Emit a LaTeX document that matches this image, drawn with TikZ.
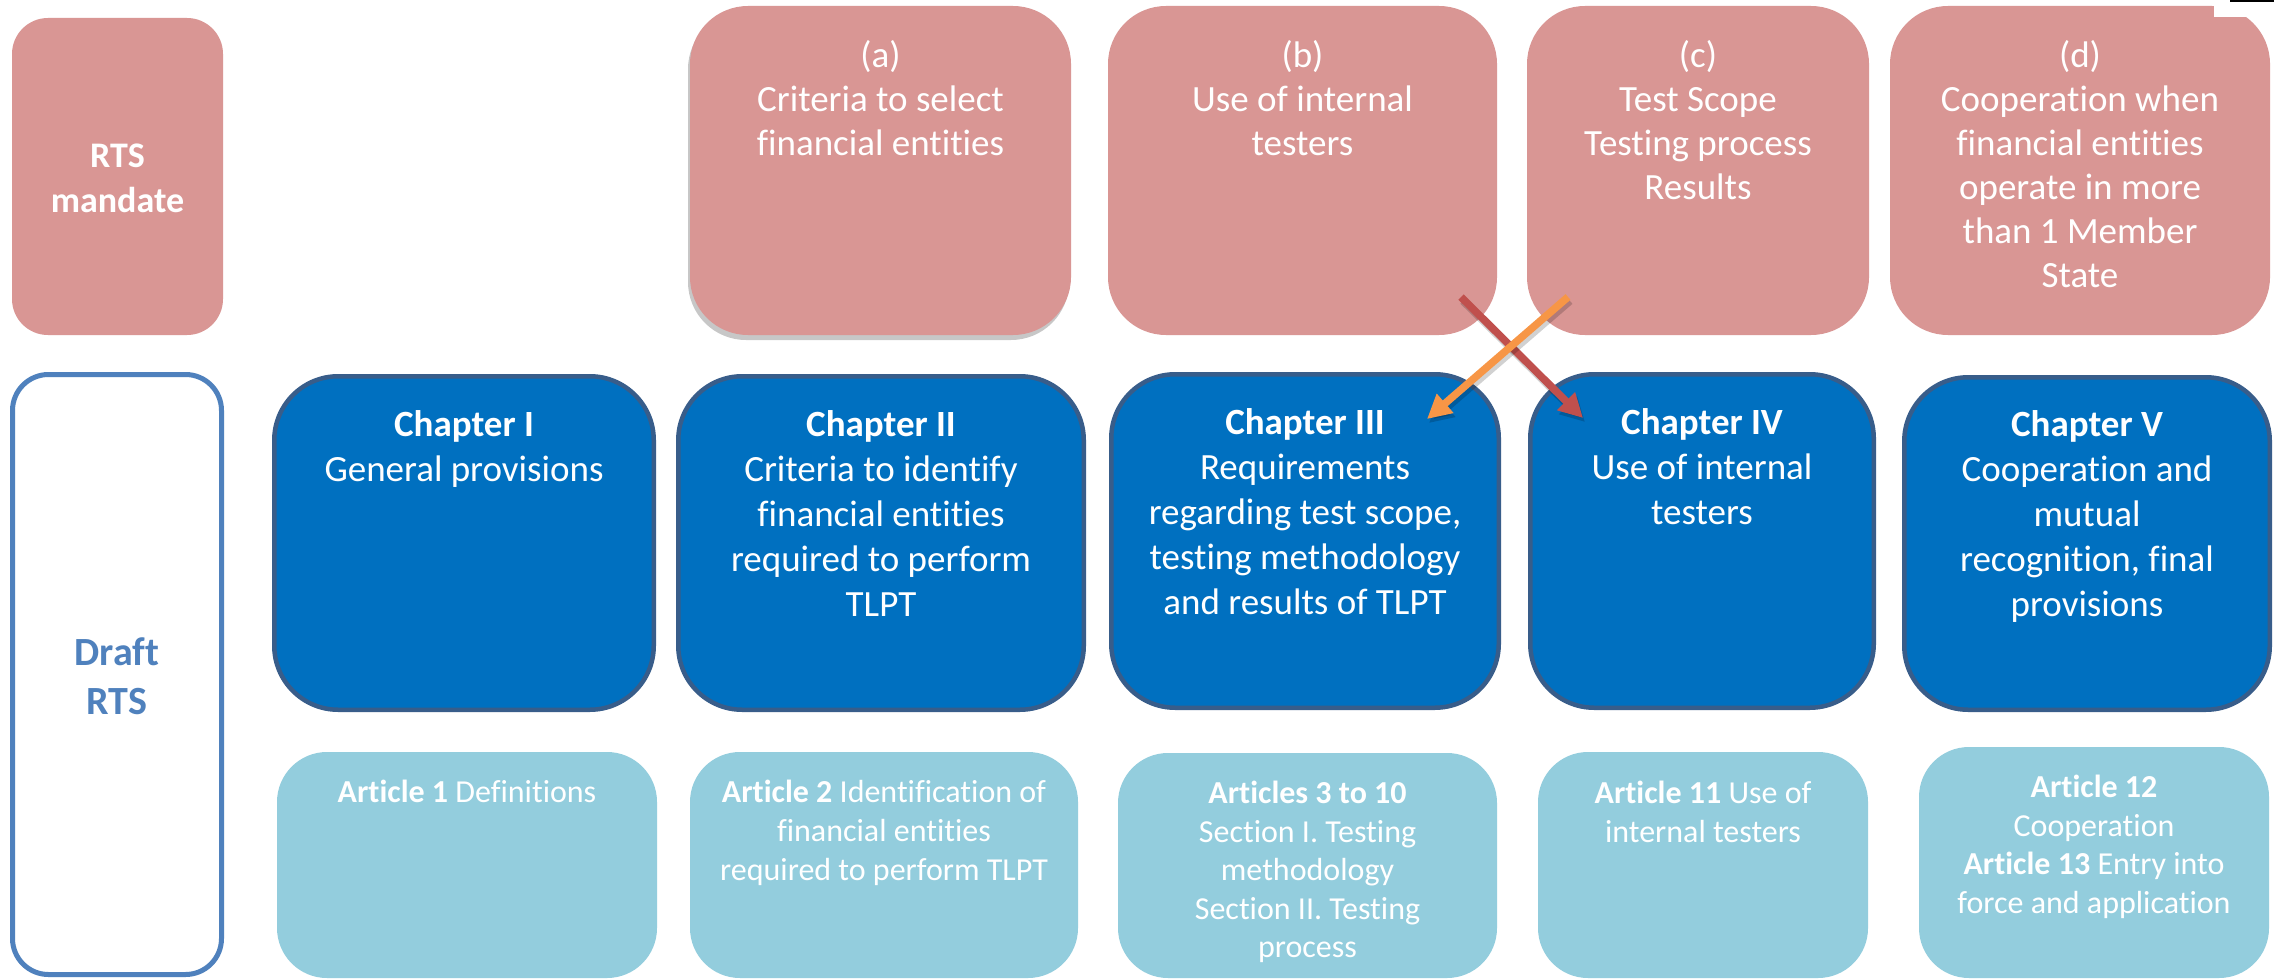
\documentclass[tikz,border=0pt]{standalone}
\usepackage{fontspec}
\setmainfont{Carlito}[Ligatures=NoCommon]
\usetikzlibrary{arrows.meta,fit,shadows}
\definecolor{pinkbox}{HTML}{D99694}
\definecolor{chapfill}{HTML}{0070C0}
\definecolor{chapline}{HTML}{385D8A}
\definecolor{draftblue}{HTML}{4F81BD}
\definecolor{artfill}{HTML}{93CDDD}
\definecolor{redarrow}{HTML}{C0504D}
\definecolor{orangearrow}{HTML}{F79646}
\begin{document}
\begin{tikzpicture}[x=0.5pt,y=-0.5pt,
  mandbox/.style={fill=pinkbox, draw=none, rounded corners=29pt, inner sep=0pt},
  rtsbox/.style={fill=pinkbox, draw=none, rounded corners=18pt, inner sep=0pt},
  draftbox/.style={fill=white, draw=draftblue, line width=2.5pt, rounded corners=18pt, inner sep=0pt},
  chapbox/.style={fill=chapfill, draw=chapline, line width=2.25pt, rounded corners=32pt, inner sep=0pt},
  artbox/.style={fill=artfill, draw=none, rounded corners=25pt, inner sep=0pt},
  ptext/.style={font=\fontsize{18.5}{22}\selectfont, text=white, align=center, inner sep=0pt, anchor=north},
  ctext/.style={font=\fontsize{18.5}{22.5}\selectfont, text=white, align=center, inner sep=0pt, anchor=north},
  atext/.style={font=\fontsize{16}{19.3}\selectfont, text=white, align=center, inner sep=0pt, anchor=north},
  sidetext/.style={font=\fontsize{18}{22.5}\selectfont\bfseries, text=white, align=center, inner sep=0pt, anchor=north},
  drafttext/.style={font=\fontsize{20}{24.5}\selectfont\bfseries, text=draftblue, align=center, inner sep=0pt, anchor=north},
  arrowline/.style={line width=3.75pt, -{Triangle[length=12pt,width=12pt]}},
  arrowshadow/.style={line width=3.75pt, draw=black, opacity=0.18, -{Triangle[length=12pt,width=12pt]}}
]
\useasboundingbox (0,0) rectangle (2274,979);
\fill[white] (0,0) rectangle (2274,979);

% ---- top row: RTS mandate ----
\node[rtsbox, fit={(12,18) (223,335)}] (rts) {};
\node[mandbox, fit={(690,6) (1071,335)}, drop shadow={shadow xshift=-1pt, shadow yshift=-2.5pt, fill=black, opacity=0.22}] (ma) {};
\node[mandbox, fit={(1108,6) (1497,335)}] (mb) {};
\node[mandbox, fit={(1527,6) (1869,335)}] (mc) {};
\node[mandbox, fit={(1890,6) (2270,335)}] (md) {};
\fill[white] (2214,0) rectangle (2274,17);
\fill[black] (2230,0) rectangle (2274,2.5);

\node[sidetext] (trts) at (117.5,135.5) {\strut RTS\\mandate};
\node[ptext] (tma) at (880.5,36) {\strut(a)\\Criteria to select\\financial entities};
\node[ptext] (tmb) at (1302.5,36) {\strut(b)\\Use of internal\\testers};
\node[ptext] (tmc) at (1698,36) {\strut(c)\\Test Scope\\Testing process\\Results};
\node[ptext] (tmd) at (2080,36) {\strut(d)\\Cooperation when\\financial entities\\operate in more\\than 1 Member\\State};

% ---- middle row: chapters ----
\node[draftbox, fit={(12.5,374.5) (221.5,974.5)}] (draft) {};
\node[drafttext] (tdraft) at (117,630.7) {\strut Draft\\RTS};

\node[chapbox, fit={(274.25,376.25) (653.75,709.75)}] (c1) {};
\node[chapbox, fit={(678.25,376.25) (1083.75,709.75)}] (c2) {};
\node[chapbox, fit={(1111.25,374.25) (1498.75,707.75)}] (c3) {};
\node[chapbox, fit={(1530.25,374.25) (1873.75,707.75)}] (c4) {};
\node[chapbox, fit={(1904.25,377.25) (2269.75,709.75)}] (c5) {};

\node[ctext] (tc1) at (464,404.5) {\strut\textbf{Chapter I}\\General provisions};
\node[ctext] (tc2) at (881,404.5) {\strut\textbf{Chapter II}\\Criteria to identify\\financial entities\\required to perform\\TLPT};
\node[ctext] (tc3) at (1305,403) {\strut\textbf{Chapter III}\\Requirements\\regarding test scope,\\testing methodology\\and results of TLPT};
\node[ctext] (tc4) at (1702,403) {\strut\textbf{Chapter IV}\\Use of internal\\testers};
\node[ctext] (tc5) at (2087,405) {\strut\textbf{Chapter V}\\Cooperation and\\mutual\\recognition, final\\provisions};

% ---- bottom row: articles ----
\node[artbox, fit={(277,752) (657,978)}] (a1) {};
\node[artbox, fit={(690,752) (1078,978)}] (a2) {};
\node[artbox, fit={(1118,753) (1497,978)}] (a3) {};
\node[artbox, fit={(1538,752) (1868,978)}] (a11) {};
\node[artbox, fit={(1919,747) (2269,978)}] (a12) {};

\node[atext] (ta1) at (467,775.5) {\strut\textbf{Article 1} Definitions};
\node[atext] (ta2) at (884,775.5) {\strut\textbf{Article 2} Identification of\\financial entities\\required to perform TLPT};
\node[atext] (ta3) at (1307.5,776) {\strut\textbf{Articles 3 to 10}\\Section I. Testing\\methodology\\Section II. Testing\\process};
\node[atext] (ta11) at (1703,776) {\strut\textbf{Article 11} Use of\\internal testers};
\node[atext] (ta12) at (2094,770) {\strut\textbf{Article 12}\\Cooperation\\\textbf{Article 13} Entry into\\force and application};

% ---- crossing arrows ----
\coordinate (rs) at (1461,297);
\coordinate (re) at (1583,418);
\coordinate (os) at (1568,297);
\coordinate (oe) at (1427,419);
\coordinate (rss) at (1463,301);
\coordinate (res) at (1585,422);
\coordinate (oss) at (1570,301);
\coordinate (oes) at (1429,423);
\draw[arrowshadow] (rss) -- (res);
\draw[arrowline, draw=redarrow, fill=redarrow] (rs) -- (re);
\draw[arrowshadow] (oss) -- (oes);
\draw[arrowline, draw=orangearrow, fill=orangearrow] (os) -- (oe);
\end{tikzpicture}
\end{document}
